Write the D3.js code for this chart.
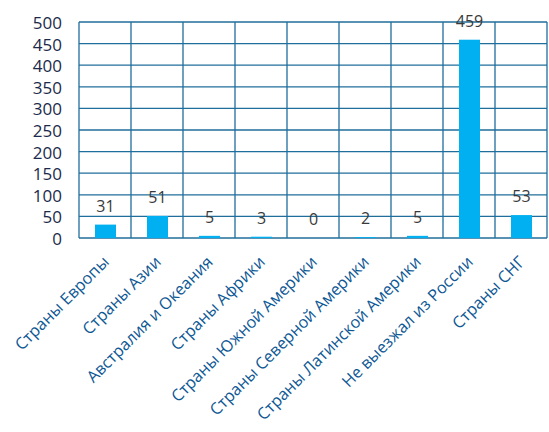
<!DOCTYPE html>
<html><head><meta charset="utf-8">
<script src="https://cdn.jsdelivr.net/npm/d3@7/dist/d3.min.js"></script>
<style>body{margin:0;background:#fff;}</style>
</head><body>
<svg id="c" width="549" height="432"></svg>
<script>
const categories = ["Страны Европы","Страны Азии","Австралия и Океания","Страны Африки","Страны Южной Америки","Страны Северной Америки","Страны Латинской Америки","Не выезжал из России","Страны СНГ"];
const values = [31,51,5,3,0,2,5,459,53];
const yTicks = [0,50,100,150,200,250,300,350,400,450,500];

const svg = d3.select("#c");
const m = {l:79, r:547, t:22, b:238};
const x = d3.scaleBand().domain(categories).range([m.l, m.r]).paddingInner(0).paddingOuter(0);
const y = d3.scaleLinear().domain([0,500]).range([m.b, m.t]);
const gridColor = "#1f6e9c";

svg.append("g").selectAll("line").data(yTicks).join("line")
  .attr("x1", m.l).attr("x2", m.r)
  .attr("y1", d=>y(d)).attr("y2", d=>y(d))
  .attr("stroke", gridColor).attr("stroke-width", 1.3);
const vx = categories.map(c=>x(c)).concat([m.r]);
svg.append("g").selectAll("line").data(vx).join("line")
  .attr("x1", d=>d).attr("x2", d=>d)
  .attr("y1", m.t).attr("y2", m.b)
  .attr("stroke", gridColor).attr("stroke-width", 1.3);

const bw = 21;
svg.append("g").selectAll("rect").data(values).join("rect")
  .attr("x", (d,i)=>x(categories[i]) + x.bandwidth()/2 - bw/2 + 0.5)
  .attr("width", bw)
  .attr("y", d=>y(d))
  .attr("height", d=>m.b - y(d))
  .attr("fill", "#00b0f0");

svg.append("g").selectAll("text").data(values).join("text")
  .attr("x", (d,i)=>x(categories[i]) + x.bandwidth()/2 + 0.5)
  .attr("y", d=>y(d) - 13)
  .attr("text-anchor","middle")
  .attr("font-family","Open Sans, sans-serif")
  .attr("font-size", 16)
  .attr("fill","#3a3a3a")
  .text(d=>d);

svg.append("g").selectAll("text").data(yTicks).join("text")
  .attr("x", 62)
  .attr("y", d=>y(d) + 7)
  .attr("text-anchor","end")
  .attr("font-family","Open Sans, sans-serif")
  .attr("font-size", 17)
  .attr("fill","#1b2a4a")
  .text(d=>d);

svg.append("g").selectAll("text").data(categories).join("text")
  .attr("transform", d=>`translate(${x(d)+x.bandwidth()/2+5},${m.b+25}) rotate(-45)`)
  .attr("text-anchor","end")
  .attr("font-family","Open Sans, sans-serif")
  .attr("font-size", 16.3)
  .attr("fill","#0d5894")
  .text(d=>d);
</script>
</body></html>
